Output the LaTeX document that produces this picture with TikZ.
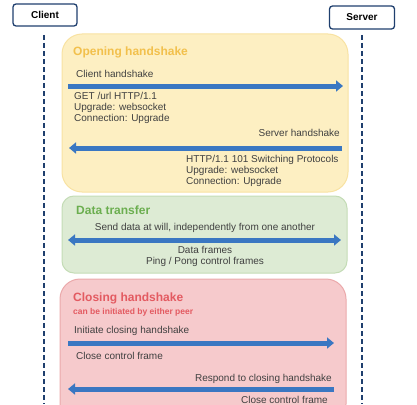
\documentclass[tikz,border=0pt]{standalone}
\usepackage{fontspec}
\setmainfont{Liberation Sans}
\usetikzlibrary{arrows.meta}
\definecolor{PeerBlue}{HTML}{1F3F6E}
\definecolor{MsgBlue}{HTML}{3A77C2}
\definecolor{OpenFill}{HTML}{FDEFC2}
\definecolor{OpenLine}{HTML}{F8E2A2}
\definecolor{OpenText}{HTML}{F2C04C}
\definecolor{DataFill}{HTML}{DDEBD4}
\definecolor{DataLine}{HTML}{C4DCB6}
\definecolor{DataText}{HTML}{6BAE4F}
\definecolor{CloseFill}{HTML}{F6CACC}
\definecolor{CloseLine}{HTML}{EBA9AB}
\definecolor{CloseText}{HTML}{E35A61}
\tikzstyle{PeerNode}=[rectangle, rounded corners=3pt, draw=PeerBlue, line width=1.3pt, fill=white, font=\bfseries\fontsize{10}{11}\selectfont]
\tikzstyle{LifeLine}=[PeerBlue, line width=1.2pt, dash pattern=on 5pt off 3pt]
\tikzstyle{PhaseBox}=[rounded corners=20pt, line width=1pt]
\tikzstyle{PhaseTitle}=[anchor=base west, inner sep=0pt, font=\bfseries\fontsize{12}{13}\selectfont]
\tikzstyle{MsgText}=[inner sep=0pt, align=left, font=\fontsize{10}{11}\selectfont, text=black!75]
\tikzstyle{MsgArrow}=[-{Triangle[length=7pt,width=11pt]}, MsgBlue, line width=5pt]
\tikzstyle{BothArrow}=[{Triangle[length=7pt,width=11pt]}-{Triangle[length=7pt,width=11pt]}, MsgBlue, line width=5pt]
\begin{document}
\begin{tikzpicture}[x=1pt,y=-1pt]
\useasboundingbox (0,0) rectangle (417,404);
% phases
\draw[PhaseBox, draw=OpenLine, fill=OpenFill] (62,34) rectangle (348,192);
\draw[PhaseBox, draw=DataLine, fill=DataFill, rounded corners=12pt] (62,196) rectangle (347,273);
\begin{scope}
\clip (0,0) rectangle (417,404);
\draw[PhaseBox, draw=CloseLine, fill=CloseFill] (60,279) rectangle (346,424);
\end{scope}

% peers and life lines
\node[PeerNode, minimum width=64pt, minimum height=22pt] (Client) at (45,15) {Client};
\node[PeerNode, minimum width=65pt, minimum height=23pt] (Server) at (362,17.5) {Server};
\coordinate (ClientEnd) at (44,404);
\coordinate (ServerEnd) at (362,404);
\draw[LifeLine] (44,35) -- (ClientEnd);
\draw[LifeLine] (362,35) -- (ServerEnd);

% opening handshake
\node[PhaseTitle, text=OpenText] (OpenT) at (73,56) {Opening handshake};
\node[MsgText, anchor=base west] (CH) at (76,77) {Client handshake};
\coordinate (CHa) at (68,86);
\coordinate (CHb) at (343,86);
\draw[MsgArrow] (CHa) -- (CHb);
\node[MsgText, anchor=north west] (CHtxt) at (74,92) {GET /url HTTP/1.1\\Upgrade: websocket\\Connection: Upgrade};
\node[MsgText, anchor=base east] (SH) at (340,136) {Server handshake};
\coordinate (SHa) at (342,148);
\coordinate (SHb) at (69,148);
\draw[MsgArrow] (SHa) -- (SHb);
\node[MsgText, anchor=north west] (SHtxt) at (186,155) {HTTP/1.1 101 Switching Protocols\\Upgrade: websocket\\Connection: Upgrade};

% data transfer
\node[PhaseTitle, text=DataText] (DataT) at (76,214) {Data transfer};
\node[MsgText, anchor=base] (DT) at (205,230) {Send data at will, independently from one another};
\coordinate (DTa) at (68,240);
\coordinate (DTb) at (341,240);
\draw[BothArrow] (DTa) -- (DTb);
\node[MsgText, anchor=north, align=center] (DTtxt) at (205,246) {Data frames\\Ping / Pong control frames};

% closing handshake
\node[PhaseTitle, text=CloseText] (CloseT) at (73,301) {Closing handshake};
\node[PhaseTitle, text=CloseText, font=\bfseries\fontsize{8.5}{9}\selectfont] (CloseS) at (73,314) {can be initiated by either peer};
\node[MsgText, anchor=base west] (IC) at (74,333) {Initiate closing handshake};
\coordinate (ICa) at (68,343);
\coordinate (ICb) at (334,343);
\draw[MsgArrow] (ICa) -- (ICb);
\node[MsgText, anchor=base west] (ICtxt) at (76,359) {Close control frame};
\node[MsgText, anchor=base east] (RC) at (332,381) {Respond to closing handshake};
\coordinate (RCa) at (334,389);
\coordinate (RCb) at (68,389);
\draw[MsgArrow] (RCa) -- (RCb);
\node[MsgText, anchor=base east] (RCtxt) at (328,403) {Close control frame};
\end{tikzpicture}
\end{document}
